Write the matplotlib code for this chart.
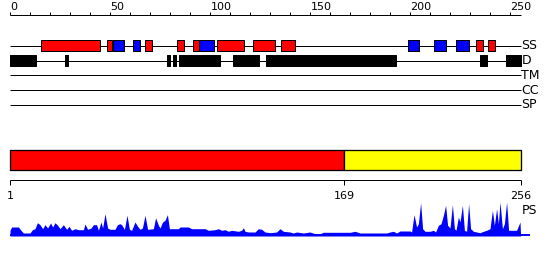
import matplotlib
matplotlib.use("Agg")
import matplotlib.pyplot as plt

# ---------------- data ----------------
seq_len = 256
scale_ticks = list(range(0, 251, 10))
scale_labels = [0, 50, 100, 150, 200, 250]

# secondary structure elements (start, end in sequence coordinates), H = helix (red), E = strand (blue)
ss_start = [15.5, 48.5, 51.7, 61.7, 67.5, 83.5, 91.7, 94.7, 103.7, 121.7, 135.3, 199.2, 212.0, 223.0, 233.0, 239.2]
ss_end   = [45.0, 50.8, 56.8, 64.8, 70.8, 86.8, 94.7, 102.0, 117.0, 132.3, 142.3, 204.5, 218.0, 229.3, 236.7, 242.3]
ss_type  = ['H', 'H', 'E', 'E', 'H', 'H', 'H', 'E', 'H', 'H', 'H', 'E', 'E', 'E', 'H', 'H']

# disordered regions
dis_start = [0.0, 27.5, 78.5, 81.3, 84.3, 111.3, 128.0, 235.0, 248.0]
dis_end   = [13.0, 29.0, 80.0, 82.8, 105.0, 124.7, 193.2, 238.5, 255.3]

track_names = ['SS', 'D', 'TM', 'CC', 'SP']

# domain boundaries
domain_bounds = [1, 169, 256]
domain_colors = ['#ff0000', '#ffff00']

# PS profile (position, score)
ps_pos = [0, 0.8, 4.2, 5.5, 6.7, 10, 11.2, 12.5, 13.7, 15, 16.3, 17.5, 18.8, 20.3, 21.3, 22.5, 23.8, 25,
          26.7, 28.3, 29.5, 30.8, 32.5, 34.2, 36.7, 37.5, 38.8, 40.5, 41.7, 43.3, 44.2, 45.5, 46.3, 47.5,
          48.8, 50, 52.5, 53.7, 55, 55.8, 57.2, 58.5, 59.7, 60.8, 62.5, 63.7, 65, 66.2, 67.5, 68.8, 71.7,
          72.8, 74.2, 75, 76.3, 77.5, 78.7, 79.7, 84.2, 85, 89.2, 90.8, 97.5, 99.2, 102.5, 104.2, 105.8,
          107.5, 109.2, 110.8, 114.2, 115.8, 116.7, 117.5, 119.2, 122.5, 124.2, 125.8, 127.5, 130,
          133.3, 135, 136.7, 140, 141.7, 143.3, 146.7, 150, 152.5, 155, 156.7, 170, 172.5, 175, 188.3,
          190, 191.7, 193.3, 195, 200, 200.8, 202, 203.3, 204.2, 205.3, 206.3, 207.5, 210, 211.7, 212.8,
          214.2, 215.5, 216.7, 217.8, 218.8, 220, 221.2, 222.2, 223, 224.2, 225, 226.2, 227.2, 228.3,
          229.3, 230.3, 231.7, 233.3, 235, 236.7, 238.3, 240, 241.2, 242.2, 243.3, 244.2, 245, 246.2,
          247.2, 248.3, 249.3, 250.3, 253.3, 255, 255.3]
ps_val = [5.7, 9, 9, 5.7, 3, 3, 6.3, 7.3, 13.3, 11.3, 7.3, 11.3, 8, 13, 9, 13.3, 10.7, 7.3,
          11.3, 6.7, 9.7, 5.7, 7.3, 6.3, 6.3, 12, 6.7, 8, 11.3, 11.3, 5.7, 14, 8, 22.3,
          8, 6.7, 6.7, 11.3, 12.3, 11.3, 6.7, 20.7, 6.7, 5.7, 14, 10, 6.7, 8, 20.7, 6.7, 7.3,
          18.3, 10.7, 8, 14, 15.7, 21.3, 7.3, 7.3, 9, 9, 7.3, 7.3, 5.7, 6.3, 7.3, 5.7,
          6.3, 4.7, 5.7, 4.7, 5.7, 8.3, 4.7, 4, 4, 7.3, 6.7, 4, 3.3,
          4, 7.3, 4.7, 4, 3, 4, 3, 4, 2.3, 2.3, 3.7, 3.7, 4.7, 3, 3,
          4, 4.7, 3, 5, 5, 4, 21.3, 9, 12.3, 33.3, 7.3, 4.7, 4.7, 5.7, 4,
          10.7, 12.3, 20.7, 30.7, 10.7, 8, 31.3, 7.3, 5.7, 19, 14, 30.7, 5.7, 4.7,
          32.3, 7.3, 4.7, 4, 3.3, 4.7, 5.7, 7.3, 25.7, 10.7, 27.3, 12.3, 34, 7.3,
          12.3, 34, 5.7, 5.7, 5.7, 14, 0]

# ---------------- drawing ----------------
W, H = 550, 260
fig = plt.figure(figsize=(W / 100, H / 100), dpi=100)
ax = fig.add_axes([0, 0, 1, 1])
ax.set_xlim(-5, 270)
ax.set_ylim(H, 0)
ax.axis('off')

px = 0.72  # one pixel in points
track_end = seq_len - 0.7
fs_num = 8
fs_lab = 9

# top scale
y_scale = 15
ax.plot([0, track_end], [y_scale, y_scale], color='black', lw=px, solid_capstyle='butt')
for t in scale_ticks:
    ax.plot([t, t], [y_scale - 2.7, y_scale], color='black', lw=px, solid_capstyle='butt')
for t in scale_labels:
    ax.text(t + 0.3, 7, str(t), ha='left', va='center', fontsize=fs_num, family='DejaVu Sans')

# tracks
track_y = [45.5, 60.5, 75.3, 90, 105]
half_h = 5.2
for name, y in zip(track_names, track_y):
    ax.plot([0, track_end], [y, y], color='black', lw=px, solid_capstyle='butt', zorder=1)
    ax.text(track_end + 0.4, y, name, ha='left', va='center', fontsize=fs_lab, family='DejaVu Sans')

colors = {'H': '#ff0000', 'E': '#0000ff'}
for s, e, t in zip(ss_start, ss_end, ss_type):
    ax.broken_barh([(s, e - s)], (track_y[0] - half_h, 2 * half_h), facecolors=colors[t],
                   edgecolors='black', linewidth=px, zorder=2)
for s, e in zip(dis_start, dis_end):
    ax.broken_barh([(s, e - s)], (track_y[1] - half_h, 2 * half_h), facecolors='black',
                   edgecolors='black', linewidth=px, zorder=2)

# domain bar
bar_scale = track_end / (seq_len - 1)
dom_x = [(b - 1) * bar_scale for b in domain_bounds]
dom_x[1] = (domain_bounds[1] - 1) * 0.9955
bar_top, bar_h = 150.3, 20
for i, c in enumerate(domain_colors):
    ax.broken_barh([(dom_x[i], dom_x[i + 1] - dom_x[i])], (bar_top, bar_h), facecolors=c,
                   edgecolors='black', linewidth=px * 1.3, zorder=2)

y_ax2 = 180.3
ax.plot([0, track_end], [y_ax2, y_ax2], color='black', lw=px, solid_capstyle='butt')
for b, xb in zip(domain_bounds, dom_x):
    ax.plot([xb, xb], [y_ax2, y_ax2 + 5], color='black', lw=px, solid_capstyle='butt')
    ax.text(xb, 196, str(b), ha='center', va='center', fontsize=fs_num, family='DejaVu Sans')

ax.text(track_end + 0.6, 210, 'PS', ha='left', va='center', fontsize=fs_lab, family='DejaVu Sans')

# PS profile
ax_ps = fig.add_axes([0, (H - 236.0) / H, 1, 40 / H])
ax_ps.set_xlim(-5, 270)
ax_ps.set_ylim(0, 40)
ax_ps.axis('off')
ax_ps.patch.set_alpha(0)
ax_ps.fill_between(ps_pos, 0, ps_val, color='#0000ff', lw=0)
ax_ps.plot([0, 260], [0.9, 0.9], color='#0000ff', lw=1.4, solid_capstyle='butt')

fig.savefig('out.png', dpi=100)
